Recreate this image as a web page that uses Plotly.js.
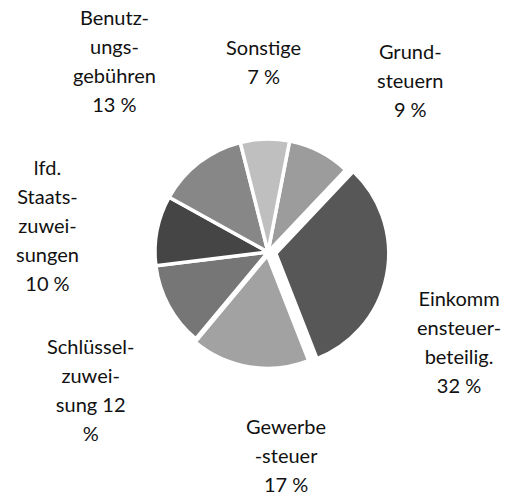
<!DOCTYPE html>
<html>
<head>
<meta charset="utf-8">
<script src="https://cdn.plot.ly/plotly-3.0.1.min.js"></script>
<style>
  html, body { margin: 0; padding: 0; background: #fff; }
  #chart { width: 509px; height: 497px; }
</style>
</head>
<body>
<div id="chart"></div>
<script>
// Einnahmen nach Quelle, Anteil in %
const categories = ['Grundsteuern', 'Einkommensteuerbeteiligung', 'Gewerbesteuer', 'Schlüsselzuweisung',
                    'lfd. Staatszuweisungen', 'Benutzungsgebühren', 'Sonstige'];
const shares = [9, 32, 17, 12, 10, 13, 7];
// label text as it is broken in the picture, {v} = share
const labelTexts = ['Grund-|steuern|{v} %', 'Einkomm|ensteuer-|beteilig.|{v} %', 'Gewerbe|-steuer|{v} %',
                    'Schlüssel-|zuwei-|sung {v}|%', 'lfd.|Staats-|zuwei-|sungen|{v} %',
                    'Benutz-|ungs-|gebühren|{v} %', 'Sonstige|{v} %'];
const sliceColors = ['#9c9c9c', '#575757', '#a2a2a2', '#767676', '#454545', '#878787', '#bfbfbf'];
const pulls = [0, 0.07, 0.03, 0, 0, 0, 0];

// label centres in pixels (x, y from top)
const labelPos = [[410, 80], [459, 341], [286, 455], [90, 389], [47, 225], [114, 60], [263, 61]];

const W = 509, H = 497;

const annotations = labelTexts.map((t, i) => {
  const lines = t.replace('{v}', shares[i]).split('|');
  return {
    text: lines.map(l => '<span style="font-size:20px">' + l + '</span>').join('<br>'),
    x: labelPos[i][0] / W,
    y: 1 - labelPos[i][1] / H,
    xref: 'paper', yref: 'paper',
    xanchor: 'center', yanchor: 'middle',
    align: 'center',
    showarrow: false,
    font: { family: 'Lato, sans-serif', size: 22.3, color: '#111' }
  };
});

const data = [{
  type: 'pie',
  labels: categories,
  values: shares,
  sort: false,
  direction: 'clockwise',
  rotation: 11,
  pull: pulls,
  marker: { colors: sliceColors, line: { color: '#ffffff', width: 3.5 } },
  textinfo: 'none',
  hoverinfo: 'none',
  domain: { x: [0.2890, 0.7641], y: [0.2497, 0.7362] }
}];

const layout = {
  width: W,
  height: H,
  margin: { l: 0, r: 0, t: 0, b: 0 },
  showlegend: false,
  paper_bgcolor: '#ffffff',
  annotations: annotations
};

Plotly.newPlot('chart', data, layout, { displayModeBar: false, staticPlot: true });
</script>
</body>
</html>
